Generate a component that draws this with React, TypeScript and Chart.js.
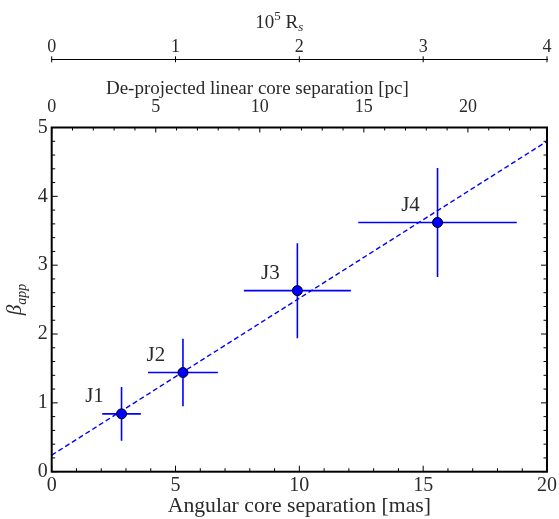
import React, { useEffect, useRef } from 'react';
import Chart from 'chart.js/auto';

const knotLabels = ['J1', 'J2', 'J3', 'J4'];
const sepMas = [2.82, 5.3, 9.92, 15.58];
const sepErr = [0.78, 1.41, 2.16, 3.2];
const betaApp = [0.84, 1.44, 2.63, 3.62];
const betaErr = [0.39, 0.49, 0.69, 0.79];
const fitX = [0, 20];
const fitY = [0.24, 4.8];
const masTicks = [0, 5, 10, 15, 20];
const pcTicks = [0, 5, 10, 15, 20];
const rsTicks = [0, 1, 2, 3, 4];
const betaTicks = [0, 1, 2, 3, 4, 5];

const FONT = '"Liberation Serif", "DejaVu Serif", serif';
const TXT = '#2a2a2a';
const BLUE = '#0000ff';

const decor = {
  id: 'decor',
  afterDraw(chart: any) {
    const { ctx, chartArea: a, scales } = chart;
    const x = scales.x, y = scales.y, x2 = scales.x2, x3 = scales.x3;
    const seg = (x1: number, y1: number, xx: number, yy: number) => {
      ctx.beginPath(); ctx.moveTo(x1, y1); ctx.lineTo(xx, yy); ctx.stroke();
    };
    ctx.save();
    ctx.strokeStyle = '#000';
    ctx.lineWidth = 1;
    for (let v = 0; v <= 20; v++) {
      const px = x.getPixelForValue(v);
      seg(px, a.bottom, px, a.bottom - (v % 5 === 0 ? 6 : 3.5));
    }
    for (let v = 0; v <= Math.floor(x2.max); v++) {
      const px = x2.getPixelForValue(v);
      seg(px, a.top, px, a.top + (v % 5 === 0 ? 5 : 3));
    }
    for (let i = 0; i <= 25; i++) {
      const py = y.getPixelForValue(i * 0.2);
      const len = i % 5 === 0 ? 6 : 3.5;
      seg(a.left, py, a.left + len, py);
      seg(a.right, py, a.right - len, py);
    }
    for (const v of rsTicks) {
      const px = x3.getPixelForValue(v);
      seg(px, x3.bottom - 3, px, x3.bottom + 3);
    }
    ctx.lineWidth = 2;
    ctx.strokeRect(a.left, a.top, a.right - a.left, a.bottom - a.top);

    // knot labels
    ctx.fillStyle = TXT;
    ctx.font = `21px ${FONT}`;
    ctx.textAlign = 'center';
    ctx.textBaseline = 'middle';
    knotLabels.forEach((l, i) => {
      const px = x.getPixelForValue(sepMas[i]);
      const py = y.getPixelForValue(betaApp[i]);
      ctx.fillText(l, px - 27, py - 17);
    });

    // top pc title
    ctx.textAlign = 'center';
    ctx.textBaseline = 'alphabetic';
    ctx.font = `19px ${FONT}`;
    const cx = (a.left + a.right) / 2;
    ctx.fillText('De-projected linear core separation [pc]', cx - 42, 93.5);

    // 10^5 R_s title
    ctx.textAlign = 'left';
    const big = `19px ${FONT}`, small = `13px ${FONT}`, smallI = `italic 13px ${FONT}`;
    const parts: [string, string, number][] = [
      ['10', big, 0], ['5', small, -8], [' R', big, 0], ['s', smallI, 3],
    ];
    let total = 0;
    const widths = parts.map(([t, f]) => { ctx.font = f; const w = ctx.measureText(t).width; total += w; return w; });
    let sx = cx - 20 - total / 2;
    parts.forEach(([t, f, dy], i) => { ctx.font = f; ctx.fillText(t, sx, 28 + dy); sx += widths[i]; });

    // beta_app
    ctx.translate(17, (a.top + a.bottom) / 2);
    ctx.rotate(-Math.PI / 2);
    ctx.font = `italic 21px ${FONT}`;
    const wb = ctx.measureText('β').width;
    ctx.font = `italic 14px ${FONT}`;
    const wa = ctx.measureText('app').width;
    const st = -(wb + wa) / 2;
    ctx.font = `italic 21px ${FONT}`;
    ctx.fillText('β', st, 4);
    ctx.font = `italic 14px ${FONT}`;
    ctx.fillText('app', st + wb, 9);
    ctx.restore();
  },
};

export default function App() {
  const ref = useRef<HTMLCanvasElement>(null);
  useEffect(() => {
    const font = { family: FONT, size: 20 };
    const topFont = { family: FONT, size: 18 };
    const errH = knotLabels.map((_, i) => ({
      data: [{ x: sepMas[i] - sepErr[i], y: betaApp[i] }, { x: sepMas[i] + sepErr[i], y: betaApp[i] }],
      showLine: true, borderColor: BLUE, borderWidth: 1.6, pointRadius: 0, order: 3,
    }));
    const errV = knotLabels.map((_, i) => ({
      data: [{ x: sepMas[i], y: betaApp[i] - betaErr[i] }, { x: sepMas[i], y: betaApp[i] + betaErr[i] }],
      showLine: true, borderColor: BLUE, borderWidth: 1.6, pointRadius: 0, order: 3,
    }));
    const chart = new Chart(ref.current!, {
      type: 'scatter',
      data: {
        datasets: [
          ...errH, ...errV,
          {
            data: fitX.map((v, i) => ({ x: v, y: fitY[i] })),
            showLine: true, borderColor: BLUE, borderWidth: 1.4, borderDash: [5, 3], pointRadius: 0, order: 2,
          },
          {
            data: sepMas.map((v, i) => ({ x: v, y: betaApp[i] })),
            backgroundColor: BLUE, borderColor: '#000', borderWidth: 1, pointRadius: 5, order: 1,
          },
        ] as any,
      },
      options: {
        animation: false,
        responsive: true,
        maintainAspectRatio: false,
        layout: { padding: { left: 0, right: 11, top: 0, bottom: 0 } },
        plugins: { legend: { display: false }, tooltip: { enabled: false } },
        scales: {
          x: {
            type: 'linear', position: 'bottom', min: 0, max: 20,
            afterBuildTicks: (s: any) => { s.ticks = masTicks.map(v => ({ value: v })); },
            grid: { display: false, drawTicks: false }, border: { display: false },
            ticks: { font, color: TXT, padding: 2, maxRotation: 0, autoSkip: false },
            title: { display: true, text: 'Angular core separation [mas]', font: { family: FONT, size: 21.7 }, color: TXT, padding: 0 },
            afterFit: (s: any) => { s.height = 47.3; },
          },
          y: {
            type: 'linear', position: 'left', min: 0, max: 5,
            afterBuildTicks: (s: any) => { s.ticks = betaTicks.map(v => ({ value: v })); },
            grid: { display: false, drawTicks: false }, border: { display: false },
            ticks: { font, color: TXT, padding: 4, autoSkip: false },
            afterFit: (s: any) => { s.width = 51.7; },
          },
          x2: {
            type: 'linear', position: 'top', min: 0, max: 23.8,
            afterBuildTicks: (s: any) => { s.ticks = pcTicks.map(v => ({ value: v })); },
            grid: { display: false, drawTicks: false }, border: { display: false },
            ticks: { font: topFont, color: TXT, padding: 9, maxRotation: 0, autoSkip: false },
            afterFit: (s: any) => { s.height = 68.2; },
          },
          x3: {
            type: 'linear', position: 'top', min: 0, max: 4, weight: 1,
            afterBuildTicks: (s: any) => { s.ticks = rsTicks.map(v => ({ value: v })); },
            grid: { display: false, drawTicks: false }, border: { display: true, color: '#000', width: 1 },
            ticks: { font: topFont, color: TXT, padding: 1.5, maxRotation: 0, autoSkip: false },
            afterFit: (s: any) => { s.height = 59.3; },
          },
        } as any,
      },
      plugins: [decor],
    });
    return () => chart.destroy();
  }, []);
  return (
    <div style={{ position: 'absolute', left: 0, top: 0, width: 559, height: 519 }}>
      <canvas ref={ref} />
    </div>
  );
}
